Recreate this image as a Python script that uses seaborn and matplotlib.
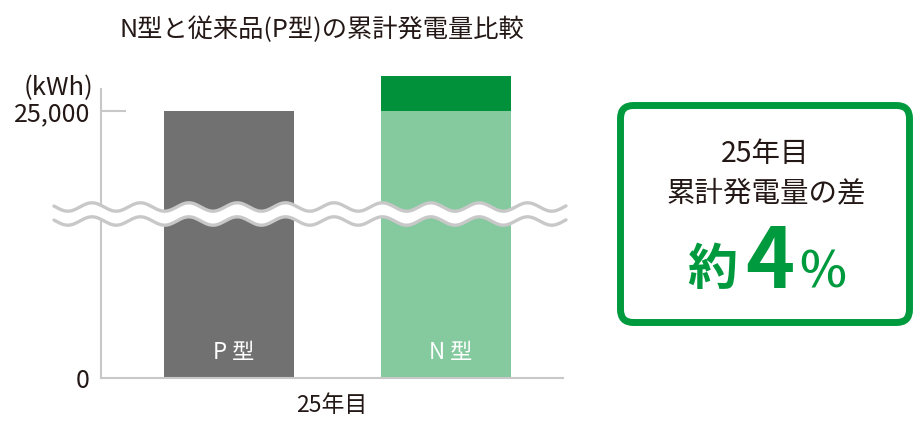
import numpy as np
import pandas as pd
import matplotlib
matplotlib.use("Agg")
import matplotlib.pyplot as plt
import matplotlib.transforms as mtransforms
from matplotlib.patches import FancyBboxPatch
import seaborn as sns

# ---- data ----
types = ["P型", "N型"]
total_kwh = [25000, 26000]          # cumulative generation at year 25
base_kwh = [25000, 25000]           # P-type equivalent portion
year_label = "25年目"
unit_label = "(kWh)"
ytick_values = [0, 25000]
ytick_labels = ["0", "25,000"]
title = "N型と従来品(P型)の累計発電量比較"
bar_labels = ["P 型", "N 型"]
box_line1 = "25年目"
box_line2 = "累計発電量の差"
diff_prefix = "約"
diff_value = "4"
diff_unit = "%"

# ---- style ----
sns.set_theme(style="white")
plt.rcParams["font.family"] = ["Noto Sans CJK JP", "DejaVu Sans"]
TEXT = "#231815"
GRAY_BAR = "#717171"
N_LIGHT = "#85c99e"
N_DARK = "#00913a"
AXIS = "#c8c8c8"
GREEN = "#009a3e"

fig = plt.figure(figsize=(9.2, 4.4), dpi=100)
W, H = 920, 440
ax = fig.add_axes([101 / W, 62 / H, 462 / W, 308 / H])

df_total = pd.DataFrame({"type": types, "kwh": total_kwh})
df_base = pd.DataFrame({"type": types, "kwh": base_kwh})

sns.barplot(data=df_total, x="type", y="kwh", hue="type",
            palette=[GRAY_BAR, N_DARK], width=0.6, legend=False,
            saturation=1, ax=ax, linewidth=0)
sns.barplot(data=df_base, x="type", y="kwh", hue="type",
            palette=[GRAY_BAR, N_LIGHT], width=0.6, legend=False,
            saturation=1, ax=ax, linewidth=0)

# broken-axis style scale (px above baseline)
def fwd(v):
    v = np.asarray(v, dtype=float)
    return np.where(v <= 25000, v * 267 / 25000, 267 + (v - 25000) * 35 / 1000)

def inv(p):
    p = np.asarray(p, dtype=float)
    return np.where(p <= 267, p * 25000 / 267, 25000 + (p - 267) * 1000 / 35)

ax.set_yscale("function", functions=(fwd, inv))
ax.set_ylim(0, float(inv(308)))
ax.set_xlim(-0.589, 1.539)

for s in ["top", "right"]:
    ax.spines[s].set_visible(False)
for s in ["left", "bottom"]:
    ax.spines[s].set_color(AXIS)
    ax.spines[s].set_linewidth(1.5)
ax.spines["left"].set_bounds(0, float(inv(289)))

ax.set_yticks(ytick_values)
ax.set_yticklabels(ytick_labels, fontsize=18, color=TEXT)
ax.yaxis.set_minor_locator(matplotlib.ticker.NullLocator())
ax.tick_params(axis="y", direction="in", length=18, width=1.5, color=AXIS, pad=8, left=True)
ax.yaxis.get_major_ticks()[0].tick1line.set_visible(False)
ax.set_ylabel("")

ax.set_xticks([0, 1])
ax.set_xticklabels([])
ax.tick_params(axis="x", length=0)
ax.set_xlabel(year_label, fontsize=16.5, color=TEXT, labelpad=8)

trans = mtransforms.blended_transform_factory(ax.transData, ax.transAxes)
for i, lab in enumerate(bar_labels):
    ax.text(i + 0.02, 26 / 308, lab, transform=trans, ha="center", va="center",
            fontsize=16, color="white")

# ---- overlay in pixel coordinates ----
ov = fig.add_axes([0, 0, 1, 1])
ov.set_xlim(0, W)
ov.set_ylim(H, 0)
ov.axis("off")

fig.text(322 / W, 1 - 30 / H, title, ha="center", va="center", fontsize=18.2, color=TEXT)
fig.text(93 / W, 1 - 88 / H, unit_label, ha="right", va="center", fontsize=18.5, color=TEXT)

# wavy break
xw = np.linspace(54, 566, 600)
phase = np.cos(2 * np.pi * (xw - 92) / 48.4)
y1 = 207 - 4.2 * phase
y2 = 221 - 4.2 * phase
ov.fill_between(xw, y1, y2, color="white", lw=0, zorder=5)
ov.plot(xw, y1, color=AXIS, lw=2.4, zorder=6, solid_capstyle="round")
ov.plot(xw, y2, color=AXIS, lw=2.4, zorder=6, solid_capstyle="round")

# callout box
box = FancyBboxPatch((620.5, 105.5), 289, 217,
                     boxstyle="round,pad=0,rounding_size=13",
                     fc="white", ec=GREEN, lw=5.0, zorder=3)
ov.add_patch(box)
ov.text(765, 154, box_line1, ha="center", va="center", fontsize=20.5, color=TEXT, zorder=4)
ov.text(766, 193, box_line2, ha="center", va="center", fontsize=20.5, color=TEXT, zorder=4)
ov.text(712, 285, diff_prefix, ha="center", va="baseline", fontsize=36,
        fontweight="bold", color=GREEN, zorder=4)
ov.text(770, 288, diff_value, ha="center", va="baseline", fontsize=60,
        fontweight="bold", color=GREEN, zorder=4)
ov.text(823, 288, diff_unit, ha="center", va="baseline", fontsize=36,
        fontweight="medium", color=GREEN, zorder=4)

fig.savefig("out.png", dpi=100)
